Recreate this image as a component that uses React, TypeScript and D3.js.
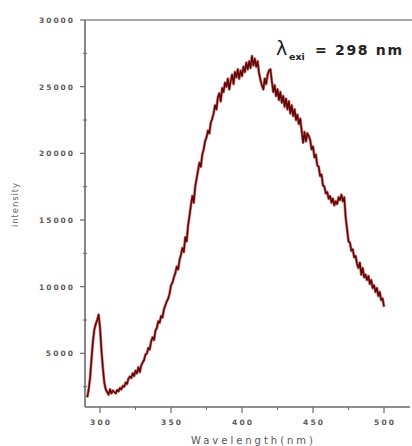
import React from "react";
import * as d3 from "d3";

// Emission spectrum, 1 nm steps starting at 291 nm
const startWavelength = 291;
const intensity: number[] = [
  1700, 2300, 3200, 4600, 5900, 6800, 7200, 7500, 7900, 6900, // 291-300
  5200, 3900, 2800, 2300, 2100, 1900, 2300, 2000, 2200, 2100, // 301-310
  2000, 2250, 2150, 2400, 2300, 2550, 2500, 2800, 2700, 3100, // 311-320
  3250, 3150, 3500, 3300, 3700, 3500, 3950, 3600, 4100, 4300, // 321-330
  4500, 4900, 5000, 5400, 5300, 5900, 6200, 6000, 6700, 6900, // 331-340
  7400, 7300, 7800, 7700, 8300, 8600, 8900, 9100, 9500, 10100, // 341-350
  10300, 10700, 11000, 11500, 11300, 12000, 12400, 12900, 12600, 13700, // 351-360
  13400, 14600, 15300, 16100, 16800, 16300, 17500, 18100, 18700, 19300, // 361-370
  19000, 19900, 20300, 20900, 21200, 21700, 21500, 22300, 22600, 23000, // 371-380
  23600, 23300, 24200, 24500, 23900, 24900, 24600, 25300, 25000, 25600, // 381-390
  24800, 25400, 25900, 25200, 26100, 25700, 26300, 25600, 26200, 25800, // 391-400
  26500, 26100, 26800, 26300, 26900, 26400, 27300, 26600, 27100, 26500, // 401-410
  26900, 26000, 25500, 25100, 24800, 25600, 25200, 25900, 26200, 26300, // 411-420
  25400, 24600, 25100, 24300, 24800, 24000, 24600, 23800, 24300, 23500, // 421-430
  24100, 23300, 23900, 23000, 23600, 22800, 23300, 22500, 22900, 22200, // 431-440
  22600, 21700, 20800, 21600, 20900, 21500, 21300, 21000, 20300, 20500, // 441-450
  19700, 19900, 19100, 19000, 18300, 18400, 17600, 17500, 17000, 17100, // 451-460
  16600, 16800, 16300, 16600, 16100, 16400, 16200, 16700, 16500, 16900, // 461-470
  16400, 16700, 15200, 14300, 13400, 13300, 12700, 12800, 12200, 12300, // 471-480
  11700, 11400, 11800, 10900, 11400, 10700, 10900, 10500, 10800, 10200, // 481-490
  10500, 9900, 10100, 9600, 9900, 9300, 9600, 9000, 9100, 8500, // 491-500
];

const xTicks = [300, 350, 400, 450, 500];
const xMinorTicks = [325, 375, 425, 475];
const yTicks = [5000, 10000, 15000, 20000, 25000, 30000];
const yMinorTicks = [2500, 7500, 12500, 17500, 22500, 27500];

const xTitle = "Wavelength(nm)";
const yTitle = "intensity";
const annotationSymbol = "λ";
const annotationSub = "exi";
const annotationText = "= 298 nm";

export default function App() {
  const W = 412;
  const H = 446;
  const left = 85;
  const right = 410;
  const top = 20;
  const bottom = 407;

  const x = d3.scaleLinear().domain([289.4, 518.3]).range([left, right]);
  const y = d3.scaleLinear().domain([975, 30000]).range([bottom, top]);

  const data = intensity.map((v, i) => [startWavelength + i, v] as [number, number]);
  const line = d3
    .line<[number, number]>()
    .x((d) => x(d[0]))
    .y((d) => y(d[1]));

  const axisColor = "#6a6a6a";
  const labelColor = "#5a5a5a";
  const font = "'DejaVu Sans', 'Liberation Sans', sans-serif";

  return (
    <svg
      width={W}
      height={H}
      style={{ position: "absolute", left: 0, top: 0, background: "#fff" }}
    >
      <rect x={0} y={0} width={W} height={H} fill="#fff" />
      {/* top frame line */}
      <line x1={left} x2={W} y1={top} y2={top} stroke="#8a8a8a" strokeWidth={1.3} />
      {/* y axis */}
      <line x1={left} x2={left} y1={top} y2={bottom} stroke={axisColor} strokeWidth={1.6} />
      {/* x axis */}
      <line x1={left} x2={right} y1={bottom} y2={bottom} stroke={axisColor} strokeWidth={1.6} />

      {yTicks.map((t) => (
        <g key={"yt" + t}>
          <line x1={left - 5} x2={left} y1={y(t)} y2={y(t)} stroke={axisColor} strokeWidth={1.2} />
          <text
            x={73}
            y={y(t) + 3}
            textAnchor="end"
            fontFamily={font}
            fontWeight="bold"
            fontSize={7.5}
            fill={labelColor}
            textLength={String(t).length * 6.8}
            lengthAdjust="spacing"
          >
            {t}
          </text>
        </g>
      ))}
      {yMinorTicks.map((t) => (
        <line
          key={"ym" + t}
          x1={left - 2}
          x2={left + 2}
          y1={y(t)}
          y2={y(t)}
          stroke={axisColor}
          strokeWidth={1}
        />
      ))}
      {xTicks.map((t) => (
        <g key={"xt" + t}>
          <line x1={x(t)} x2={x(t)} y1={bottom} y2={bottom + 6} stroke={axisColor} strokeWidth={1.2} />
          <text
            x={x(t)}
            y={425}
            textAnchor="middle"
            fontFamily={font}
            fontWeight="bold"
            fontSize={7.5}
            fill={labelColor}
            textLength={20}
            lengthAdjust="spacing"
          >
            {t}
          </text>
        </g>
      ))}
      {xMinorTicks.map((t) => (
        <line
          key={"xm" + t}
          x1={x(t)}
          x2={x(t)}
          y1={bottom}
          y2={bottom + 3}
          stroke={axisColor}
          strokeWidth={1}
        />
      ))}

      {/* axis titles */}
      <text
        x={252}
        y={444}
        textAnchor="middle"
        fontFamily={font}
        fontSize={10}
        fill="#555"
        textLength={122}
        lengthAdjust="spacing"
      >
        {xTitle}
      </text>
      <text
        transform={`translate(18, 205) rotate(-90)`}
        textAnchor="middle"
        fontFamily={font}
        fontSize={8.5}
        fill="#666"
        textLength={44}
        lengthAdjust="spacing"
      >
        {yTitle}
      </text>

      {/* spectrum */}
      <path d={line(data) || ""} fill="none" stroke="#b81414" strokeWidth={3} strokeOpacity={0.5} strokeLinejoin="round" />
      <path d={line(data) || ""} fill="none" stroke="#620707" strokeWidth={1.6} strokeLinejoin="round" />

      {/* annotation */}
      <text x={276} y={55} fontFamily={font} fontSize={19} fill="#222">
        {annotationSymbol}
      </text>
      <text x={289} y={60} fontFamily={font} fontSize={9.5} fill="#222" fontWeight="bold">
        {annotationSub}
      </text>
      <text
        x={315}
        y={55}
        fontFamily={font}
        fontSize={14}
        fontWeight="bold"
        fill="#222"
        textLength={87}
        lengthAdjust="spacing"
      >
        {annotationText}
      </text>
    </svg>
  );
}
